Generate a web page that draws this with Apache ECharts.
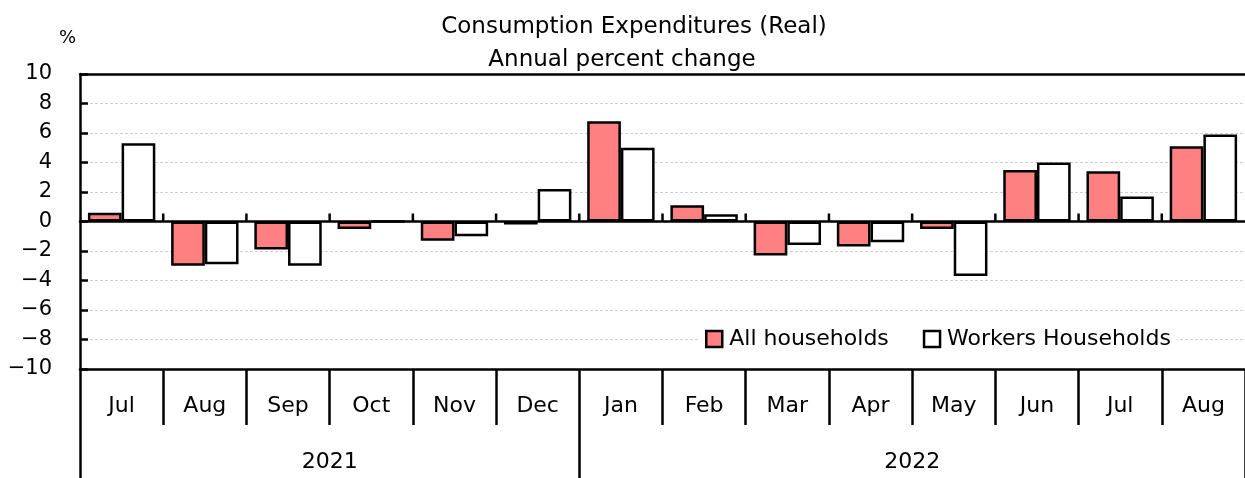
<!DOCTYPE html>
<html>
<head>
<meta charset="utf-8">
<script src="https://cdn.jsdelivr.net/npm/echarts@6/dist/echarts.min.js"></script>
<style>
  html, body { margin: 0; padding: 0; background: #fff; }
  #main { width: 1245px; height: 478px; }
</style>
</head>
<body>
<div id="main"></div>
<script>
// months shown on the axis, Jul 2021 .. Aug 2022
const months = ['Jul', 'Aug', 'Sep', 'Oct', 'Nov', 'Dec', 'Jan', 'Feb', 'Mar', 'Apr', 'May', 'Jun', 'Jul', 'Aug']
const years = ['2021', '2022']
const yearSpans = [6, 8] // months per year
const allHouseholds = [0.6, -3.0, -1.9, -0.5, -1.3, -0.2, 6.8, 1.1, -2.3, -1.7, -0.5, 3.5, 3.4, 5.1]
const workersHouseholds = [5.3, -2.9, -3.0, 0.0, -1.0, 2.2, 5.0, 0.5, -1.6, -1.4, -3.7, 4.0, 1.7, 5.9]
const yMin = -10
const yMax = 10

const font = 'DejaVu Sans'
const lineW = 2.5
const gridTop = 74
const gridBottom = 109
const plotH = 478 - gridTop - gridBottom
const zeroY = gridTop + plotH * (yMax - 0) / (yMax - yMin)

// year boundaries and label centres on a 0..N value scale
const yearTicks = [0]
const yearCenters = []
let acc = 0
yearSpans.forEach(function (n) {
  yearCenters.push(acc + n / 2)
  acc += n
  yearTicks.push(acc)
})
// inner month boundaries, marked with short ticks on the zero line
const monthBounds = []
for (let i = 1; i < months.length; i++) monthBounds.push([i, 0])

const chart = echarts.init(document.getElementById('main'))
chart.setOption({
  animation: false,
  textStyle: { fontFamily: font },
  title: [
    {
      text: 'Consumption Expenditures (Real)',
      left: 629, top: 11, textAlign: 'center',
      textStyle: { fontFamily: font, fontSize: 23, fontWeight: 'normal', color: '#000' }
    },
    {
      text: 'Annual percent change',
      left: 617, top: 44, textAlign: 'center',
      textStyle: { fontFamily: font, fontSize: 23, fontWeight: 'normal', color: '#000' }
    }
  ],
  graphic: [
    {
      type: 'text', left: 59, top: 29,
      style: { text: '%', font: '18px "DejaVu Sans"', fill: '#000' }
    }
  ],
  legend: {
    left: 699, top: 325,
    padding: [3, 6],
    backgroundColor: '#fff',
    icon: 'rect',
    itemWidth: 16, itemHeight: 16, itemGap: 34,
    itemStyle: { borderWidth: lineW, borderColor: '#000' },
    textStyle: { fontFamily: font, fontSize: 22, color: '#000', padding: [0, 0, 0, 2] },
    data: ['All households', 'Workers Households']
  },
  grid: [
    { left: 80, right: 0, top: gridTop, bottom: gridBottom, containLabel: false },
    // lower half only, so its top edge is the zero line
    { left: 80, right: 0, top: zeroY, bottom: gridBottom, containLabel: false }
  ],
  xAxis: [
    {
      // bars live here
      type: 'category', data: months, position: 'bottom',
      axisLine: { show: false, onZero: false },
      axisTick: { show: false }, axisLabel: { show: false }, splitLine: { show: false }
    },
    {
      // month labels under the plot
      type: 'category', data: months, position: 'bottom',
      axisLine: { show: true, onZero: false, lineStyle: { color: '#000', width: lineW } },
      axisTick: { show: true, length: 56, interval: 0, lineStyle: { color: '#000', width: lineW } },
      axisLabel: { interval: 0, margin: 26, fontSize: 22, color: '#000', fontFamily: font },
      splitLine: { show: false }
    },
    {
      // year row
      type: 'value', min: 0, max: months.length, position: 'bottom',
      axisLine: { show: false, onZero: false },
      splitLine: { show: false },
      axisTick: { show: true, customValues: yearTicks, length: 110, lineStyle: { color: '#000', width: lineW } },
      axisLabel: {
        customValues: yearCenters, margin: 82, fontSize: 22, color: '#000', fontFamily: font,
        formatter: function (v) { return years[yearCenters.indexOf(v)] }
      }
    },
    {
      // top border
      type: 'category', data: months, position: 'top',
      axisLine: { show: true, onZero: false, lineStyle: { color: '#000', width: lineW } },
      axisTick: { show: false }, axisLabel: { show: false }, splitLine: { show: false }
    },
    {
      // zero line
      gridIndex: 1, type: 'category', data: months, position: 'top',
      axisLine: { show: true, onZero: false, lineStyle: { color: '#000', width: lineW } },
      axisTick: { show: false }, axisLabel: { show: false }, splitLine: { show: false }
    }
  ],
  yAxis: [
    {
      type: 'value', min: yMin, max: yMax, interval: 2,
      axisLine: { show: true, lineStyle: { color: '#000', width: lineW } },
      axisTick: { show: true, inside: true, length: 8, lineStyle: { color: '#000', width: lineW } },
      axisLabel: {
        margin: 28, fontSize: 21, color: '#000', fontFamily: font,
        formatter: function (v) { return v < 0 ? '\u2212' + Math.abs(v) : String(v) }
      },
      splitLine: { lineStyle: { color: '#d0d0d0', type: [3, 2], width: 1 } }
    },
    { gridIndex: 1, type: 'value', min: yMin, max: 0, show: false }
  ],
  series: [
    {
      name: 'All households', type: 'bar', data: allHouseholds,
      barGap: 0, barCategoryGap: '19%',
      itemStyle: { color: '#ff8080', borderColor: '#000', borderWidth: lineW }
    },
    {
      name: 'Workers Households', type: 'bar', data: workersHouseholds,
      itemStyle: { color: '#fff', borderColor: '#000', borderWidth: lineW }
    },
    {
      // short upward ticks at month boundaries on the zero line
      name: 'ticks', type: 'scatter', xAxisIndex: 2, yAxisIndex: 0,
      data: monthBounds, silent: true, z: 10,
      symbol: 'rect', symbolSize: [lineW, 8], symbolOffset: [0, -4],
      itemStyle: { color: '#000', opacity: 1 }
    }
  ]
})
</script>
</body>
</html>
